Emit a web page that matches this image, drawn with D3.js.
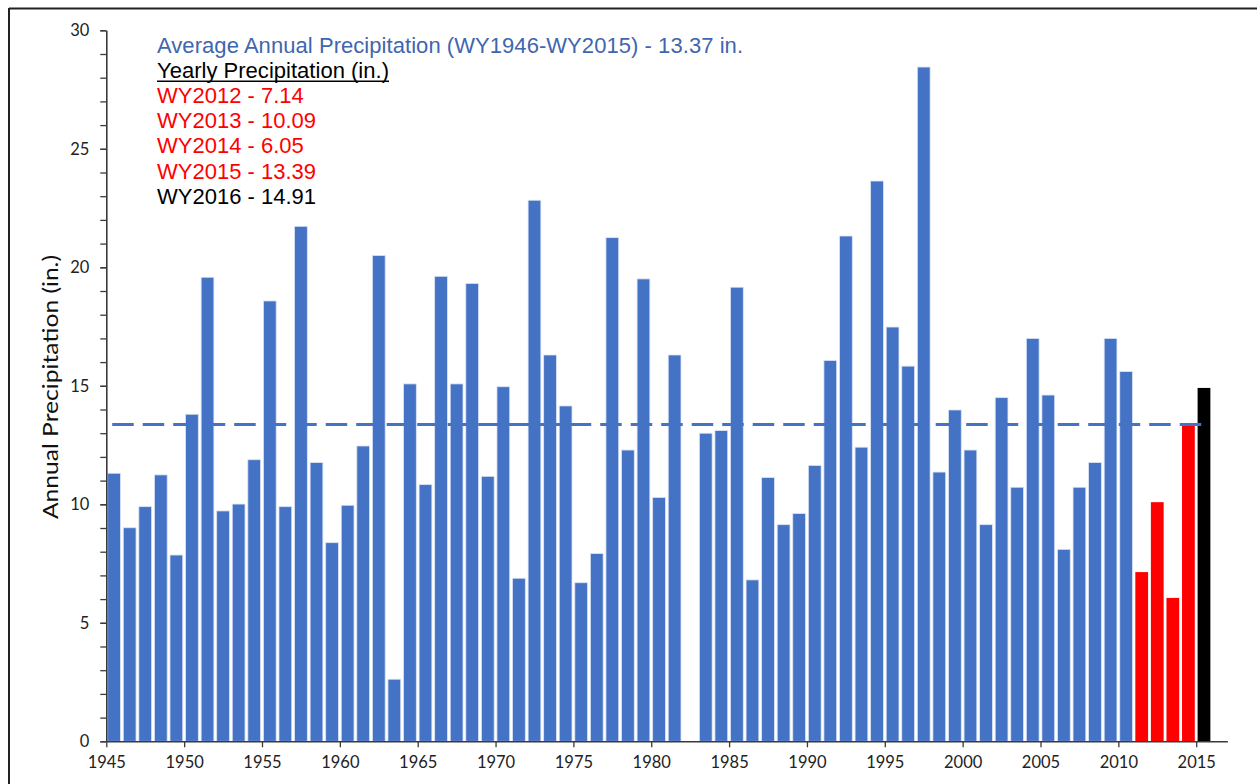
<!DOCTYPE html>
<html>
<head>
<meta charset="utf-8">
<script src="https://cdn.jsdelivr.net/npm/d3@7"></script>
<style>
  body { margin: 0; background: #fff; }
  svg { display: block; }
</style>
</head>
<body>
<div id="chart"></div>
<script>
// water years and annual precipitation (in.), WY1983 has no record
var years = d3.range(1946, 2017);
var precip = [
  11.31, 9.01, 9.90, 11.24, 7.86, 13.80, 19.58, 9.72, 10.01, 11.88,
  18.58, 9.90, 21.73, 11.76, 8.38, 9.96, 12.46, 20.50, 2.62, 15.08,
  10.83, 19.62, 15.08, 19.32, 11.18, 14.96, 6.88, 22.83, 16.30, 14.15,
  6.69, 7.92, 21.25, 12.29, 19.51, 10.29, 16.30, null, 13.00, 13.11,
  19.16, 6.81, 11.13, 9.14, 9.61, 11.64, 16.07, 21.32, 12.41, 23.64,
  17.48, 15.83, 28.45, 11.36, 13.98, 12.29, 9.14, 14.50, 10.72, 17.00,
  14.61, 8.10, 10.72, 11.76, 17.00, 15.60, 7.14, 10.09, 6.05, 13.39,
  14.91
];
var dryYears = [2012, 2013, 2014, 2015];
var currentYear = 2016;
var average = 13.37;

var xTicks = d3.range(1945, 2016, 5);
var yMajorTicks = [0, 5, 10, 15, 20, 25, 30];
var yMinorTicks = d3.range(0, 31, 1);

var notes = [
  { text: "Average Annual Precipitation (WY1946-WY2015) - 13.37 in.", kind: "avg" },
  { text: "Yearly Precipitation (in.)", kind: "head" },
  { text: "WY2012 - 7.14", kind: "dry" },
  { text: "WY2013 - 10.09", kind: "dry" },
  { text: "WY2014 - 6.05", kind: "dry" },
  { text: "WY2015 - 13.39", kind: "dry" },
  { text: "WY2016 - 14.91", kind: "current" }
];
var yTitle = "Annual Precipitation (in.)";

var W = 1257, H = 784;
var blue = "#4472C4";
var axisColor = "#3a3a3a";

var svg = d3.select("#chart").append("svg")
  .attr("width", W)
  .attr("height", H);

svg.append("rect").attr("width", W).attr("height", H).attr("fill", "#fff");

// frame lines at top and left
svg.append("line").attr("x1", 9).attr("x2", W).attr("y1", 8.5).attr("y2", 8.5)
  .attr("stroke", "#222").attr("stroke-width", 2);
svg.append("line").attr("x1", 9).attr("x2", 9).attr("y1", 8).attr("y2", H)
  .attr("stroke", "#222").attr("stroke-width", 2);

var xScale = d3.scaleLinear()
  .domain([1945, 2017])
  .range([106.3, 106.3 + 72 * 15.57]);

var yScale = d3.scaleLinear()
  .domain([0, 30])
  .range([741.3, 30.3]);

var step = xScale(1) - xScale(0);
var barW = step * 0.82;

function barColor(year) {
  if (year === currentYear) return "#000";
  if (dryYears.indexOf(year) >= 0) return "#FF0000";
  return blue;
}

var data = years.map(function(y, i) { return { year: y, value: precip[i] }; })
  .filter(function(d) { return d.value !== null; });

// bars
svg.append("g").selectAll("rect")
  .data(data)
  .enter().append("rect")
  .attr("x", function(d) { return xScale(d.year - 0.5) - barW / 2; })
  .attr("y", function(d) { return yScale(d.value); })
  .attr("width", barW)
  .attr("height", function(d) { return yScale(0) - yScale(d.value); })
  .attr("fill", function(d) { return barColor(d.year); })
  .attr("stroke", function(d) { return barColor(d.year) === blue ? "#dbe4f5" : "none"; })
  .attr("stroke-width", 0.8);

// average line
svg.append("line")
  .attr("x1", xScale(1945.38))
  .attr("x2", xScale(2015.75))
  .attr("y1", yScale(average))
  .attr("y2", yScale(average))
  .attr("stroke", blue)
  .attr("stroke-width", 3)
  .attr("stroke-dasharray", "21.5,9");

// y axis with minor ticks
var yMinor = svg.append("g")
  .attr("transform", "translate(" + xScale(1945) + ",0)")
  .call(d3.axisLeft(yScale).tickValues(yMinorTicks).tickSize(6).tickFormat(""));
yMinor.select(".domain").remove();
yMinor.selectAll("line").attr("stroke", axisColor).attr("stroke-width", 1.3);

var yAxis = svg.append("g")
  .attr("transform", "translate(" + xScale(1945) + ",0)")
  .call(d3.axisLeft(yScale).tickValues(yMajorTicks).tickSize(6).tickSizeOuter(0).tickPadding(11));
yAxis.select(".domain").attr("stroke", axisColor).attr("stroke-width", 1.6);
yAxis.selectAll("line").attr("stroke", axisColor).attr("stroke-width", 1.3);
yAxis.selectAll("text")
  .attr("fill", "#222")
  .style("font-family", "Lato, 'Open Sans', sans-serif")
  .style("font-size", "16.5px");

// x axis
var xAxis = svg.append("g")
  .attr("transform", "translate(0," + yScale(0) + ")")
  .call(d3.axisBottom(xScale).tickValues(xTicks).tickSize(6).tickSizeOuter(0)
    .tickFormat(d3.format("d")).tickPadding(9));
xAxis.select(".domain").attr("stroke", axisColor).attr("stroke-width", 1.6);
xAxis.selectAll("line").attr("stroke", axisColor).attr("stroke-width", 1.3);
xAxis.selectAll("text")
  .attr("fill", "#222")
  .style("font-family", "Lato, 'Open Sans', sans-serif")
  .style("font-size", "16.5px");

// y axis title
svg.append("text")
  .attr("transform", "translate(58,387) rotate(-90)")
  .attr("text-anchor", "middle")
  .attr("textLength", 264)
  .attr("lengthAdjust", "spacingAndGlyphs")
  .style("font-family", "Lato, 'Open Sans', sans-serif")
  .style("font-size", "22px")
  .attr("fill", "#111")
  .text(yTitle);

// annotation text block
var noteColor = { avg: "#3F66AE", head: "#000", dry: "#FF0000", current: "#000" };
var notesG = svg.append("g").attr("transform", "translate(157,0)");
notesG.selectAll("text")
  .data(notes)
  .enter().append("text")
  .attr("x", 0)
  .attr("y", function(d, i) { return 52.5 + i * 25.2; })
  .attr("fill", function(d) { return noteColor[d.kind]; })
  .style("font-family", "'Liberation Sans', Arial, sans-serif")
  .style("font-size", "22px")
  .each(function(d) {
    if (d.kind === "avg") d3.select(this).attr("textLength", 586).attr("lengthAdjust", "spacing");
    if (d.kind === "head") d3.select(this).attr("textLength", 232).attr("lengthAdjust", "spacing");
  })
  .text(function(d) { return d.text; });

// underline the heading
notesG.append("line")
  .attr("x1", 0).attr("x2", 232)
  .attr("y1", 52.5 + 25.2 + 3.5).attr("y2", 52.5 + 25.2 + 3.5)
  .attr("stroke", "#000").attr("stroke-width", 1.5);
</script>
</body>
</html>
